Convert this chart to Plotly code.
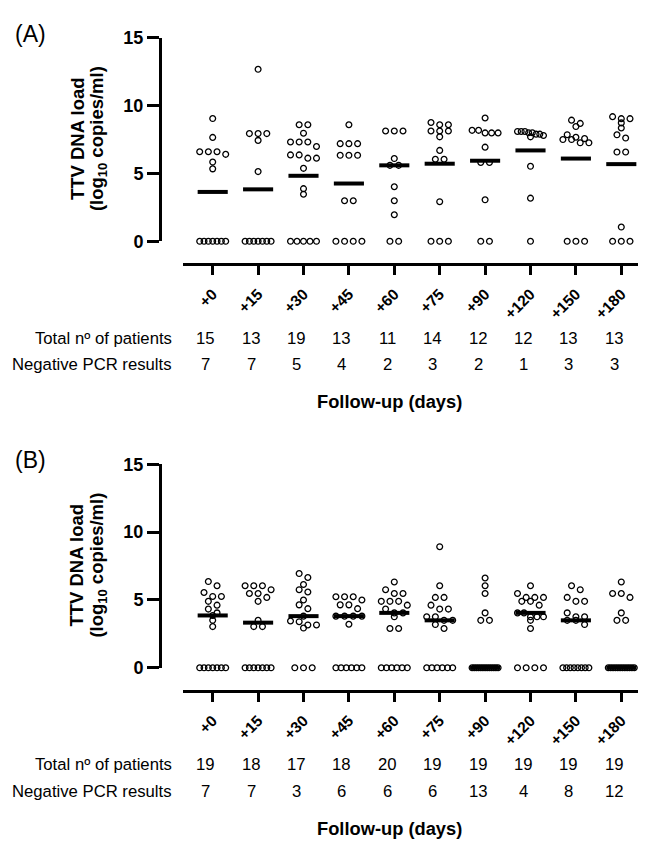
import plotly.graph_objects as go

W, H = 646, 849

# ---------------- data ----------------
days = ["+0", "+15", "+30", "+45", "+60", "+75", "+90", "+120", "+150", "+180"]

total_a = [15, 13, 19, 13, 11, 14, 12, 12, 13, 13]
neg_a = [7, 7, 5, 4, 2, 3, 2, 1, 3, 3]
total_b = [19, 18, 17, 18, 20, 19, 19, 19, 19, 19]
neg_b = [7, 7, 3, 6, 6, 6, 13, 4, 8, 12]

# positive (non-zero) TTV loads, log10 copies/ml, per follow-up day
pos_a = [
    [9.05, 7.66, 6.6, 6.6, 6.6, 6.41, 5.84, 5.34],
    [12.68, 7.94, 7.94, 7.94, 7.44, 5.14],
    [8.59, 8.59, 7.97, 7.32, 7.32, 7.32, 6.99, 6.37, 6.37, 6.13, 6.13, 5.38, 3.88, 3.47],
    [8.59, 7.2, 7.2, 7.2, 6.34, 6.34, 6.34, 2.99, 2.99],
    [8.13, 8.13, 8.13, 6.1, 5.6, 5.6, 4.02, 2.99, 1.96],
    [8.76, 8.59, 8.59, 8.13, 8.13, 8.13, 7.7, 6.7, 6.05, 6.05, 2.92],
    [9.09, 8.18, 8.18, 7.99, 7.99, 7.99, 6.94, 5.81, 5.81, 3.06],
    [8.1, 8.1, 8.1, 8.0, 8.0, 7.9, 7.9, 7.8, 7.7, 5.53, 3.18],
    [8.93, 8.69, 8.46, 7.86, 7.67, 7.57, 7.5, 7.5, 7.26, 7.26],
    [9.19, 9.04, 9.04, 8.73, 8.35, 7.85, 7.61, 6.58, 6.58, 1.05],
]
center_a = [3.64, 3.83, 4.83, 4.26, 5.6, 5.72, 5.94, 6.7, 6.1, 5.69]

pos_b = [
    [6.36, 6.05, 5.55, 5.26, 5.26, 4.9, 4.62, 4.33, 4.05, 3.86, 3.5, 3.04],
    [6.05, 6.05, 6.05, 5.76, 5.48, 5.48, 5.19, 4.9, 3.5, 3.04, 3.04],
    [6.95, 6.66, 6.14, 5.76, 5.59, 5.0, 4.64, 4.36, 3.81, 3.45, 3.4, 3.16, 3.16, 2.93],
    [5.24, 5.24, 5.24, 5.0, 4.64, 4.64, 4.36, 3.81, 3.81, 3.81, 3.81, 3.21],
    [6.33, 5.76, 5.48, 5.48, 4.9, 4.9, 4.9, 4.62, 4.33, 4.05, 4.05, 3.76, 2.9, 2.9],
    [8.93, 6.05, 5.19, 5.19, 4.62, 4.33, 4.33, 3.76, 3.76, 3.5, 3.5, 3.19, 2.9],
    [6.62, 6.05, 5.48, 4.05, 3.5, 3.5],
    [6.05, 5.48, 5.19, 5.19, 5.19, 4.9, 4.9, 4.62, 4.05, 4.05, 3.76, 3.76, 3.76, 3.5, 2.9],
    [6.05, 5.76, 5.19, 4.9, 4.9, 4.05, 3.76, 3.76, 3.5, 3.5, 3.19],
    [6.33, 5.48, 5.48, 5.19, 4.05, 3.5, 3.5],
]
center_b = [3.86, 3.33, 3.81, 3.81, 4.05, 3.5, 0.0, 4.05, 3.5, 0.0]

y_ticks = [0, 5, 10, 15]

# ---------------- geometry (pixels, page coordinates) ----------------
FONT = "Liberation Sans, Arial, Helvetica, sans-serif"
OFF = 8  # default body margin of the html page
X_DOM = (183, 645)
CAT0, CAT9 = 212.7, 621.3
PPU_X = (CAT9 - CAT0) / 9.0
X_RANGE = [-(CAT0 - X_DOM[0]) / PPU_X, 9 + (X_DOM[1] - CAT9) / PPU_X]
Y_AXIS_X = 160
DY = 436.8  # vertical offset of panel B


def px(x):
    return (x - OFF) / W


def py(y):
    return 1 - (y - OFF) / H


def swarm(vals, d=8.7, span=26.0, thr=0.35):
    """Arrange points in horizontal rows (GraphPad-like scatter)."""
    vals = sorted(vals, reverse=True)
    rows = []
    for v in vals:
        if rows and (rows[-1][0] - v) <= thr:
            rows[-1].append(v)
        else:
            rows.append([v])
    xs, ys = [], []
    for r in rows:
        k = len(r)
        step = d if k == 1 else min(d, span / (k - 1))
        for j, v in enumerate(r):
            xs.append((j - (k - 1) / 2) * step / PPU_X)
            ys.append(v)
    return xs, ys


fig = go.Figure()


def txt(text, x, y, size, xanchor="center", angle=0, xref="paper"):
    return dict(text=text, x=x, y=y, xref=xref, yref="paper", showarrow=False,
                xanchor=xanchor, yanchor="middle", textangle=angle,
                font=dict(family=FONT, size=size, color="black"))


def add_panel(idx, pos, neg, center, total, label, dy):
    xa = "x" if idx == 1 else "x2"
    ya = "y" if idx == 1 else "y2"
    xs_all, ys_all = [], []
    for i in range(len(days)):
        vals = list(pos[i]) + [0.0] * neg[i]
        ox, oy = swarm(vals)
        xs_all += [i + o for o in ox]
        ys_all += oy
    fig.add_trace(go.Scatter(
        x=xs_all, y=ys_all, mode="markers", xaxis=xa, yaxis=ya,
        marker=dict(symbol="circle-open", size=5.8, color="black",
                    line=dict(width=1.3, color="black")),
        cliponaxis=False, showlegend=False, hoverinfo="y"))
    fig.add_trace(go.Scatter(
        x=list(range(len(days))), y=center, mode="markers", xaxis=xa, yaxis=ya,
        marker=dict(symbol="line-ew", size=21.5, color="black",
                    line=dict(width=4, color="black")),
        cliponaxis=False, showlegend=False, hoverinfo="y"))

    axis_common = dict(showgrid=False, zeroline=False, showline=True,
                       linewidth=3, linecolor="black", ticks="outside",
                       tickwidth=3, tickcolor="black", fixedrange=True)
    xkey = "xaxis" if idx == 1 else "xaxis2"
    ykey = "yaxis" if idx == 1 else "yaxis2"
    fig.update_layout(**{
        xkey: dict(axis_common, domain=[px(X_DOM[0]), px(X_DOM[1])],
                   range=X_RANGE, anchor="free", position=py(260 + dy),
                   tickvals=list(range(len(days))), ticktext=days,
                   tickangle=-45, ticklen=9, ticklabelstandoff=4,
                   tickfont=dict(family=FONT, size=15.5, color="black", weight="bold")),
        ykey: dict(axis_common, domain=[py(236.7 + dy), py(28.3 + dy)],
                   range=[0, 15], anchor="free", position=px(Y_AXIS_X),
                   tickvals=y_ticks, ticklen=12,
                   tickfont=dict(family=FONT, size=18, color="black", weight="bold")),
    })

    ann = [
        txt(label, px(30), py(24 + dy), 23),
        txt("<b>TTV DNA load</b>", px(77), py(132 + dy), 18.5, angle=-90),
        txt("<b>(log<sub>10</sub> copies/ml)</b>", px(98), py(132 + dy), 18.5, angle=-90),
        txt("Total nº of patients", px(174), py(336 + dy), 16.7, xanchor="right"),
        txt("Negative PCR results", px(174), py(363 + dy), 16.7, xanchor="right"),
        txt("<b>Follow-up (days)</b>", px(389), py(401 + dy), 18.3),
    ]
    for i in range(len(days)):
        ann.append(txt(str(total[i]), i - 7 / PPU_X, py(336 + dy), 16.7, xref=xa))
        ann.append(txt(str(neg[i]), i - 7 / PPU_X, py(363 + dy), 16.7, xref=xa))
    return ann


annotations = []
annotations += add_panel(1, pos_a, neg_a, center_a, total_a, "(A)", 0)
annotations += add_panel(2, pos_b, neg_b, center_b, total_b, "(B)", DY)

fig.update_layout(
    width=W, height=H,
    margin=dict(l=0, r=0, t=0, b=0),
    paper_bgcolor="white", plot_bgcolor="white",
    annotations=annotations,
    font=dict(family=FONT, color="black"),
    showlegend=False,
)

fig.write_html("out.html", config={"displayModeBar": False})
